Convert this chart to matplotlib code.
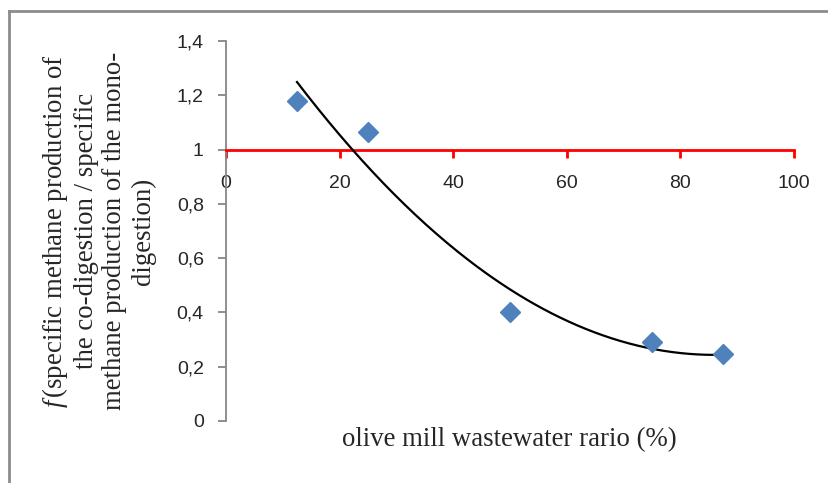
import numpy as np
import matplotlib
matplotlib.use("Agg")
import matplotlib.pyplot as plt
from matplotlib.lines import Line2D

plt.rcParams["mathtext.fontset"] = "custom"
plt.rcParams["mathtext.it"] = "Liberation Serif:italic"
plt.rcParams["mathtext.rm"] = "Liberation Serif"

ratio = [12.5, 25, 50, 75, 87.5]
f_values = [1.18, 1.065, 0.40, 0.29, 0.245]
y_ticks = [0, 0.2, 0.4, 0.6, 0.8, 1.0, 1.2, 1.4]
y_tick_labels = ["0", "0,2", "0,4", "0,6", "0,8", "1", "1,2", "1,4"]
x_ticks = [0, 20, 40, 60, 80, 100]

fig = plt.figure(figsize=(8.29, 4.83), dpi=100)
ax = fig.add_axes([0.2726, 0.1284, 0.9578 - 0.2726, 0.9151 - 0.1284])

# quadratic trendline from data
coef = np.polyfit(ratio, f_values, 2)
xs = np.linspace(min(ratio), max(ratio), 200)
ax.plot(xs, np.polyval(coef, xs), color="black", lw=1.6, zorder=3)

ax.plot(ratio, f_values, linestyle="none", marker="D", markersize=10,
        color="#4F81BD", zorder=4)

ax.set_xlim(0, 100)
ax.set_ylim(0, 1.4)

for s in ["top", "right"]:
    ax.spines[s].set_visible(False)
ax.spines["left"].set_color("#868686")
ax.spines["left"].set_linewidth(1.3)
ax.spines["bottom"].set_position(("data", 1.0))
ax.spines["bottom"].set_color("#FF0000")
ax.spines["bottom"].set_linewidth(2.0)

ax.set_yticks(y_ticks)
ax.set_yticklabels(y_tick_labels)
ax.set_xticks(x_ticks)
ax.set_xticklabels([str(t) for t in x_ticks])

ax.tick_params(axis="y", direction="out", length=6, width=1.3, color="#868686",
               labelsize=14, pad=10, labelcolor="#262626")
ax.tick_params(axis="x", direction="out", length=6, width=2.0, color="#FF0000",
               labelsize=14, pad=12, labelcolor="#262626")
for lab in ax.get_xticklabels() + ax.get_yticklabels():
    lab.set_fontfamily("Liberation Sans")

# x axis label
fig.text(0.6147, 1 - 440 / 483, "olive mill wastewater rario (%)",
         family="Liberation Serif", fontsize=19.3, color="#262626",
         ha="center", va="center")

# y axis label (multi-line, rotated)
ylab_lines = [
    r"$\mathit{f}\,$(specific methane production of",
    "the co-digestion / specific",
    "methane production of the mono-",
    "digestion)",
]
fig.text(98 / 829, 1 - 231 / 483, "\n".join(ylab_lines),
         family="Liberation Serif", fontsize=19.3, color="#262626",
         rotation=90, ha="center", va="center", multialignment="center",
         linespacing=1.18)

# outer frame (top and left visible)
fig.add_artist(Line2D([9 / 829, 1.0], [1 - 11 / 483, 1 - 11 / 483],
                      transform=fig.transFigure, color="#8C8C8C", lw=2))
fig.add_artist(Line2D([9 / 829, 9 / 829], [0, 1 - 11 / 483],
                      transform=fig.transFigure, color="#8C8C8C", lw=2))

fig.savefig("out.png", dpi=100)
